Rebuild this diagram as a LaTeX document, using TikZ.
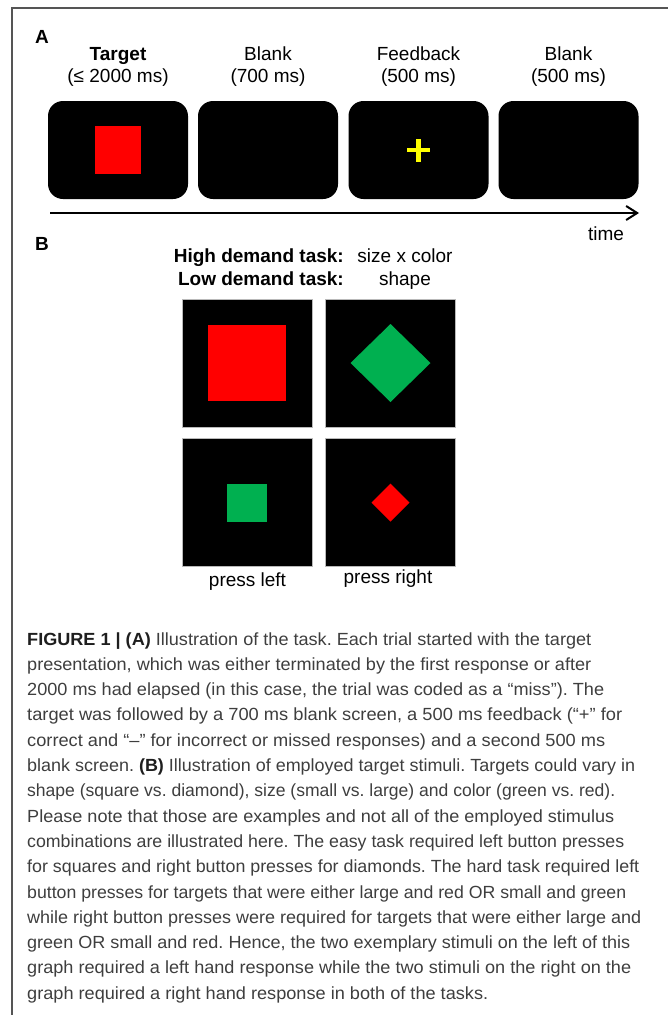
\documentclass[tikz,border=0pt]{standalone}
\usepackage{fontspec}
\usepackage{graphicx}
\setmainfont{Liberation Sans}
\usetikzlibrary{arrows.meta,calc}
\definecolor{capgray}{RGB}{62,62,62}
\definecolor{capbold}{RGB}{30,30,30}
\definecolor{stimred}{RGB}{255,0,0}
\definecolor{stimgreen}{RGB}{0,176,80}
\definecolor{fbyellow}{RGB}{255,255,0}
\definecolor{framegray}{RGB}{85,85,85}
\definecolor{edgegray}{RGB}{185,185,185}
\newcommand{\capline}[2]{\resizebox{#1pt}{\height}{#2}}
\begin{document}
\frenchspacing
\begin{tikzpicture}[x=1pt,y=-1pt,
  screen/.style={fill=black, rounded corners=15pt, minimum width=140pt, minimum height=98pt, inner sep=0pt},
  stimbox/.style={fill=black, draw=edgegray, line width=0.8pt, minimum width=130pt, minimum height=128pt, inner sep=0pt},
  sq/.style={inner sep=0pt, outer sep=0pt},
  lbl/.style={font=\fontsize{19}{22}\selectfont, inner sep=0pt, anchor=base},
  blbl/.style={font=\bfseries\fontsize{19}{22}\selectfont, inner sep=0pt},
  panel/.style={font=\bfseries\fontsize{19}{22}\selectfont, inner sep=0pt, anchor=base west},
  timeline/.style={line width=2.2pt, -{Straight Barb[length=11pt,width=14pt,line width=2pt]}},
  frameline/.style={draw=framegray, line width=2pt},
  caption/.style={font=\fontsize{17.6}{25.3}\selectfont, text=capgray, inner sep=0pt, anchor=base west}
]
\useasboundingbox (0,0) rectangle (668,1015);
% frame
\coordinate (fr1) at (668,8);
\coordinate (fr2) at (12,8);
\coordinate (fr3) at (12,1015);
\draw[frameline] (fr1) -- (fr2) -- (fr3);

% panel A
\node[panel] (pA) at (35,43) {A};
\node[lbl] (l1a) at (118,60) {\bfseries Target};
\node[lbl] (l1b) at (118,82) {(≤ 2000 ms)};
\node[lbl] (l2a) at (268,60) {Blank};
\node[lbl] (l2b) at (268,82) {(700 ms)};
\node[lbl] (l3a) at (418.5,60) {Feedback};
\node[lbl] (l3b) at (418.5,82) {(500 ms)};
\node[lbl] (l4a) at (568.5,60) {Blank};
\node[lbl] (l4b) at (568.5,82) {(500 ms)};

\node[screen] (s1) at (118,150) {};
\node[screen] (s2) at (268,150) {};
\node[screen] (s3) at (418.5,150) {};
\node[screen] (s4) at (568.5,150) {};

\node[sq, fill=stimred, minimum width=46pt, minimum height=48pt] (tgt) at (s1.center) {};
\fill[fbyellow] ($(s3.center)+(-11.5,-2.2)$) rectangle ($(s3.center)+(11.5,2.2)$);
\fill[fbyellow] ($(s3.center)+(-2.2,-11.5)$) rectangle ($(s3.center)+(2.2,11.5)$);

\coordinate (t0) at (50,213);
\coordinate (t1) at (639,213);
\draw[timeline] (t0) -- (t1);
\node[lbl] (time) at (606,240) {time};

% panel B
\node[panel] (pB) at (35,250) {B};
\node[blbl, anchor=base east] (hd) at (344,262) {High demand task:};
\node[blbl, anchor=base east] (ld) at (344,285) {Low demand task:};
\node[lbl] (hdv) at (405,262) {size x color};
\node[lbl] (ldv) at (405,285) {shape};

\node[stimbox] (b1) at (247,363) {};
\node[stimbox] (b2) at (390.5,363) {};
\node[stimbox] (b3) at (247,502.5) {};
\node[stimbox] (b4) at (390.5,502.5) {};

\node[sq, fill=stimred, minimum width=78pt, minimum height=76pt] (bigsq) at (b1.center) {};
\fill[stimgreen] ($(b2.center)+(-40,0)$) -- ($(b2.center)+(0,-39)$) -- ($(b2.center)+(40,0)$) -- ($(b2.center)+(0,39)$) -- cycle;
\node[sq, fill=stimgreen, minimum width=40pt, minimum height=38pt] (smsq) at (b3.center) {};
\fill[stimred] ($(b4.center)+(-19,0)$) -- ($(b4.center)+(0,-19)$) -- ($(b4.center)+(19,0)$) -- ($(b4.center)+(0,19)$) -- cycle;

\node[lbl] (pl) at (247.5,586) {press left};
\node[lbl] (pr) at (388,583) {press right};

% caption
\node[caption] (cap) at (27,645) {\begin{tabular}[t]{@{}l@{}}
\capline{564}{{\color{capbold}\bfseries FIGURE 1 | (A)} Illustration of the task. Each trial started with the target}\\
\capline{564}{presentation, which was either terminated by the first response or after}\\
\capline{577}{2000 ms had elapsed (in this case, the trial was coded as a “miss”). The}\\
\capline{595}{target was followed by a 700 ms blank screen, a 500 ms feedback (“+” for}\\
\capline{578}{correct and “–” for incorrect or missed responses) and a second 500 ms}\\
\capline{608}{blank screen. {\color{capbold}\bfseries (B)} Illustration of employed target stimuli. Targets could vary in}\\
\capline{588}{shape (square vs. diamond), size (small vs. large) and color (green vs. red).}\\
\capline{587}{Please note that those are examples and not all of the employed stimulus}\\
\capline{597}{combinations are illustrated here. The easy task required left button presses}\\
\capline{612}{for squares and right button presses for diamonds. The hard task required left}\\
\capline{599}{button presses for targets that were either large and red OR small and green}\\
\capline{614}{while right button presses were required for targets that were either large and}\\
\capline{603}{green OR small and red. Hence, the two exemplary stimuli on the left of this}\\
\capline{604}{graph required a left hand response while the two stimuli on the right on the}\\
\capline{461}{graph required a right hand response in both of the tasks.}
\end{tabular}};
\end{tikzpicture}
\end{document}
